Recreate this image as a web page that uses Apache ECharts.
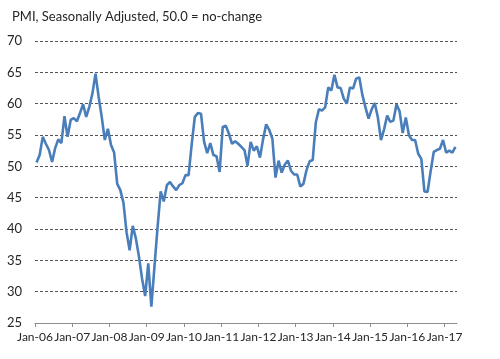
<!DOCTYPE html>
<html>
<head>
<meta charset="utf-8">
<script src="https://cdn.jsdelivr.net/npm/echarts@6/dist/echarts.min.js"></script>
<style>html,body{margin:0;padding:0;background:#fff}#c{width:500px;height:359px}</style>
</head>
<body>
<div id="c"></div>
<script>
// Monthly PMI, Jan-06 .. Apr-17
const pmi2006 = [50.6, 51.8, 54.7, 53.6, 52.6, 50.7, 52.9, 54.3, 53.7, 58.0, 54.7, 57.4];
const pmi2007 = [57.7, 57.2, 58.5, 59.9, 57.9, 59.5, 61.6, 64.8, 61.1, 57.9, 54.2, 56.0];
const pmi2008 = [53.4, 52.2, 47.2, 46.2, 44.2, 39.5, 36.6, 40.5, 38.5, 35.6, 32.1, 29.3];
const pmi2009 = [34.5, 27.6, 34.0, 40.3, 46.0, 44.4, 47.0, 47.5, 46.8, 46.2, 47.0, 47.3];
const pmi2010 = [48.6, 48.6, 53.5, 57.9, 58.5, 58.4, 53.9, 52.1, 53.7, 51.8, 51.6, 49.1];
const pmi2011 = [56.3, 56.5, 55.2, 53.6, 54.0, 53.6, 53.1, 52.6, 50.1, 53.9, 52.5, 53.2];
const pmi2012 = [51.4, 54.3, 56.7, 55.8, 54.4, 48.2, 50.9, 49.0, 50.3, 50.9, 49.3, 48.7];
const pmi2013 = [48.7, 46.8, 47.2, 49.4, 50.8, 51.0, 57.0, 59.1, 58.9, 59.4, 62.6, 62.1];
const pmi2014 = [64.6, 62.6, 62.5, 60.8, 60.0, 62.6, 62.4, 64.0, 64.2, 61.4, 59.4, 57.6];
const pmi2015 = [59.1, 60.1, 57.8, 54.2, 55.9, 58.1, 57.1, 57.3, 59.9, 58.8, 55.3, 57.8];
const pmi2016 = [55.0, 54.2, 54.2, 52.0, 51.2, 46.0, 45.9, 49.2, 52.3, 52.6, 52.8, 54.2];
const pmi2017 = [52.2, 52.5, 52.2, 53.1];

const tickLabels = ['Jan-06','Jan-07','Jan-08','Jan-09','Jan-10','Jan-11','Jan-12','Jan-13','Jan-14','Jan-15','Jan-16','Jan-17'];
const titleText = 'PMI, Seasonally Adjusted, 50.0 = no-change';

const values = [].concat(pmi2006, pmi2007, pmi2008, pmi2009, pmi2010, pmi2011,
  pmi2012, pmi2013, pmi2014, pmi2015, pmi2016, pmi2017);
// each month occupies one slot; point drawn at slot centre
const seriesData = values.map((v, i) => [i + 0.5, v]);
const tickPos = tickLabels.map((_, k) => k * 12);

const font = 'Lato, "Open Sans", sans-serif';
const chart = echarts.init(document.getElementById('c'), null, {renderer: 'canvas'});
chart.setOption({
  animation: false,
  title: {
    text: titleText, left: 7, top: 5,
    textStyle: {fontFamily: font, fontSize: 13, fontWeight: 'normal', color: '#262626'}
  },
  grid: {left: 35, right: 43, top: 41, bottom: 36, containLabel: false},
  xAxis: {
    type: 'value', min: 0, max: values.length,
    axisLine: {show: true, lineStyle: {color: '#8c8c8c', width: 1}},
    axisTick: {show: true, length: 4, customValues: tickPos, lineStyle: {color: '#8c8c8c'}},
    axisLabel: {
      customValues: tickPos, margin: 8,
      fontFamily: font, fontSize: 12, color: '#262626',
      formatter: v => tickLabels[Math.round(v / 12)] || ''
    },
    splitLine: {show: false}
  },
  yAxis: {
    type: 'value', min: 25, max: 70, interval: 5,
    axisLine: {show: false}, axisTick: {show: false},
    axisLabel: {fontFamily: font, fontSize: 13, color: '#262626', margin: 13},
    splitLine: {show: true, lineStyle: {color: '#555', width: 1, type: [3, 2]}}
  },
  series: [{
    type: 'line', data: seriesData, showSymbol: false, symbol: 'none',
    lineStyle: {color: '#4a7ebb', width: 2.6}, z: 3
  }]
});
</script>
</body>
</html>
